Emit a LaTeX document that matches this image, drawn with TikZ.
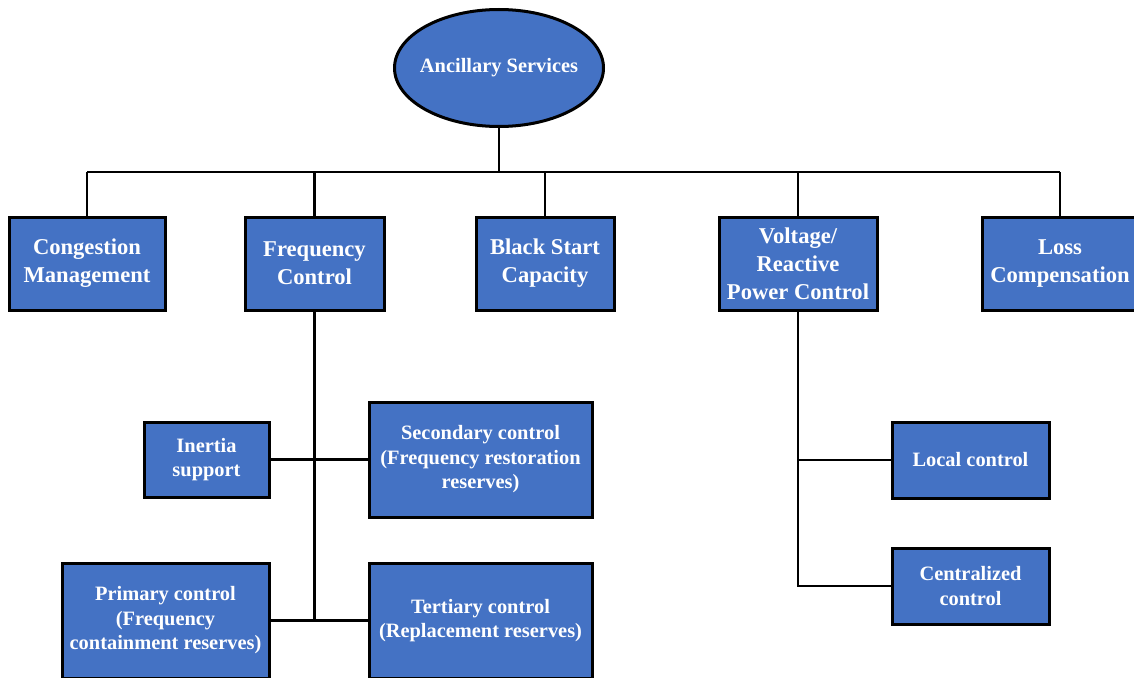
\documentclass[tikz,border=0pt]{standalone}
\usepackage{fontspec}
\setmainfont{Liberation Serif}
\usetikzlibrary{shapes.geometric}
\definecolor{boxblue}{HTML}{4472C4}
\tikzset{
  topbox/.style={draw=black, line width=3pt, fill=boxblue, text=white, align=center,
    font=\fontsize{22.6}{28}\selectfont\bfseries, inner sep=0pt, minimum height=93pt},
  subbox/.style={draw=black, line width=3pt, fill=boxblue, text=white, align=center,
    font=\fontsize{20.4}{24.5}\selectfont\bfseries, inner sep=0pt},
  conn/.style={line width=2.5pt, black}
}
\begin{document}
\begin{tikzpicture}[x=1pt,y=-1pt]
\useasboundingbox (0,0) rectangle (1134,677);
\clip (0,0) rectangle (1134,677);
\fill[white] (0,0) rectangle (1134,677);
% root
\node[ellipse, draw=black, line width=3pt, fill=boxblue, text=white,
  minimum width=209pt, minimum height=117pt, inner sep=0pt,
  font=\fontsize{20.4}{24}\selectfont\bfseries] (as) at (499,68) {\makebox[0pt]{Ancillary Services}};
% top level
\node[topbox, minimum width=156pt] (cm) at (87,263.5) {Congestion\\Management};
\node[topbox, minimum width=139pt] (fc) at (314.5,263.5) {Frequency\\Control};
\node[topbox, minimum width=138pt] (bs) at (545,263.5) {Black Start\\Capacity};
\node[topbox, minimum width=158pt] (vr) at (798,263.5) {Voltage/\\Reactive\\Power Control};
\node[topbox, minimum width=156pt] (lc) at (1060,263.5) {Loss\\Compensation};
% frequency sub
\node[subbox, minimum width=125pt, minimum height=75pt] (is) at (206.5,459.5) {Inertia\\support};
\node[subbox, minimum width=223pt, minimum height=115pt] (sc) at (480.5,459.5) {Secondary control\\(Frequency restoration\\reserves)};
\node[subbox, minimum width=207pt, minimum height=115pt] (pc) at (165.5,620.5) {Primary control\\(Frequency\\containment reserves)};
\node[subbox, minimum width=223pt, minimum height=115pt] (tc) at (480.5,620.5) {Tertiary control\\(Replacement reserves)};
% voltage sub
\node[subbox, minimum width=157pt, minimum height=76pt] (loc) at (970.5,460) {Local control};
\node[subbox, minimum width=157pt, minimum height=76pt] (cen) at (970.5,586) {Centralized\\control};
% connectors
\coordinate (bus) at (499,172);
\coordinate (busL) at (87,172);
\coordinate (busR) at (1060,172);
\draw[conn] (as.south) -- (bus);
\draw[conn] (busL) -- (busR);
\draw[conn] (cm.north) -- (cm.north |- busL);
\draw[conn] (fc.north) -- (fc.north |- busL);
\draw[conn] (bs.north) -- (bs.north |- busL);
\draw[conn] (vr.north) -- (vr.north |- busL);
\draw[conn] (lc.north) -- (lc.north |- busL);
\coordinate (fcEnd) at (314.5,620.5);
\draw[conn] (fc.south) -- (fcEnd);
\draw[conn] (is.east) -- (sc.west);
\draw[conn] (pc.east) -- (tc.west);
\draw[conn] (vr.south) -- (vr.south |- cen.west) -- (cen.west);
\draw[conn] (loc.west) -- (vr.south |- loc.west);
\end{tikzpicture}
\end{document}
